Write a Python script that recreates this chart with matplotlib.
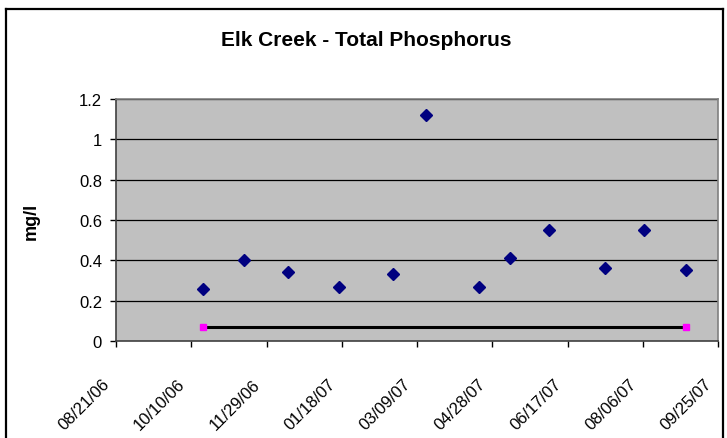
import matplotlib
matplotlib.use("Agg")
import matplotlib.pyplot as plt
from matplotlib.lines import Line2D
from matplotlib.transforms import ScaledTranslation
import pandas as pd

# Sample data
sample_dates = ["2006-10-18", "2006-11-14", "2006-12-13", "2007-01-16",
                "2007-02-21", "2007-03-15", "2007-04-19", "2007-05-10",
                "2007-06-05", "2007-07-12", "2007-08-07", "2007-09-04"]
phosphorus = [0.26, 0.40, 0.34, 0.27, 0.33, 1.12, 0.27, 0.41, 0.55, 0.36, 0.55, 0.35]

# Standard line (first to last sample)
standard_dates = ["2006-10-18", "2007-09-04"]
standard_values = [0.07, 0.07]

x_start = "2006-08-21"
x_end = "2007-09-25"
tick_step_days = 50
y_ticks = [0, 0.2, 0.4, 0.6, 0.8, 1.0, 1.2]
y_tick_labels = ["0", "0.2", "0.4", "0.6", "0.8", "1", "1.2"]

plt.rcParams['font.family'] = ['Liberation Sans', 'DejaVu Sans']

W, H = 727, 439
fig = plt.figure(figsize=(W / 100, H / 100), dpi=100)
ax = fig.add_axes([116/W, 1 - 342/H, (718-116)/W, (342-100)/H])

# outer chart frame (bottom edge falls outside the picture)
fx0, fx1, fy0 = 5.5 / W, 723 / W, 1 - 10 / H
fig.add_artist(Line2D([fx0, fx0], [-0.1, fy0], transform=fig.transFigure,
                      color='black', linewidth=1.6))
fig.add_artist(Line2D([fx1, fx1], [-0.1, fy0], transform=fig.transFigure,
                      color='black', linewidth=1.6))
fig.add_artist(Line2D([fx0, fx1], [fy0, fy0], transform=fig.transFigure,
                      color='black', linewidth=1.6))

ax.set_facecolor('#C0C0C0')
for y in y_ticks[1:]:
    ax.axhline(y, color='black', linewidth=0.9, zorder=1)

d = pd.to_datetime(sample_dates)
ax.plot(d, phosphorus, linestyle='none', marker='D', markersize=5.8,
        color='#000080', zorder=3)
sd = pd.to_datetime(standard_dates)
ax.plot(sd, standard_values, color='black', linewidth=2.2, marker='s',
        markersize=5, markerfacecolor='#FF00FF', markeredgecolor='#FF00FF', zorder=3)

ax.set_ylim(0, 1.2)
ax.set_yticks(y_ticks)
ax.set_yticklabels(y_tick_labels)

xs = pd.Timestamp(x_start)
xe = pd.Timestamp(x_end)
ax.set_xlim(xs, xe)
xt = pd.date_range(xs, xe, freq=f"{tick_step_days}D")
ax.set_xticks(xt)
ax.set_xticklabels([t.strftime("%m/%d/%y") for t in xt], rotation=45,
                   ha='right', va='center', rotation_mode='anchor')

ax.tick_params(axis='y', direction='out', length=4, width=1, pad=6,
               labelsize=12, colors='black')
ax.tick_params(axis='x', direction='out', length=4, width=1, pad=25,
               labelsize=12)
for lbl in ax.get_xticklabels():
    lbl.set_transform(lbl.get_transform() + ScaledTranslation(-0.09, 0, fig.dpi_scale_trans))

for s in ['left', 'bottom']:
    ax.spines[s].set_color('#404040')
    ax.spines[s].set_linewidth(1.2)
for s in ['top', 'right']:
    ax.spines[s].set_color('#808080')
    ax.spines[s].set_linewidth(1.2)

ax.set_ylabel("mg/l", fontsize=13, fontweight='bold', labelpad=28)
fig.text(366/W, 1 - 40/H, "Elk Creek - Total Phosphorus", ha='center',
         va='center', fontsize=15, fontweight='bold')

fig.savefig("out.png", dpi=100, facecolor='white')
